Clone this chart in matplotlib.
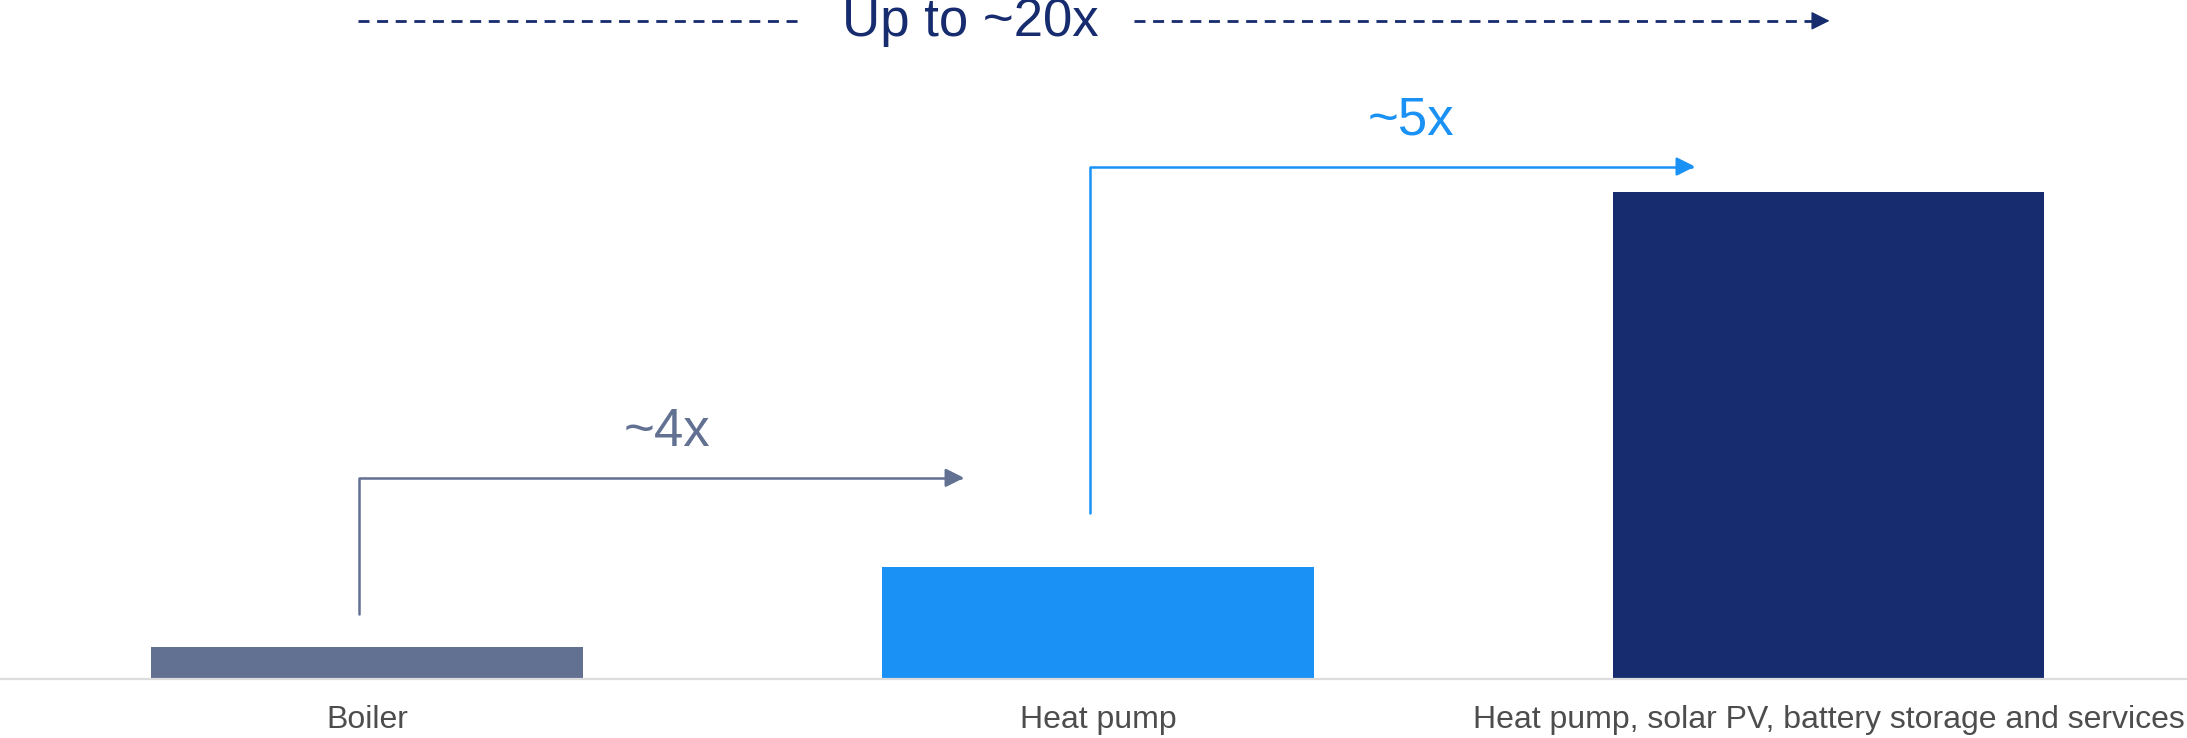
import matplotlib
matplotlib.use("Agg")
import matplotlib.pyplot as plt

plt.rcParams["font.family"] = ["Liberation Sans", "DejaVu Sans"]
plt.rcParams["lines.scale_dashes"] = False

# relative cost / value per home set-up
categories = ["Boiler", "Heat pump", "Heat pump, solar PV, battery storage and services"]
values = [1.0, 3.5, 15.2]
bar_colors = ["#627092", "#1a91f5", "#162c6f"]
step_labels = ["~4x", "~5x"]
total_label = "Up to ~20x"

fig = plt.figure(figsize=(21.87, 7.38), dpi=100)
ax = fig.add_axes([0, 0.08, 1, 0.92])

x = range(len(categories))
ax.bar(x, values, width=0.59, color=bar_colors)
ax.set_xlim(-0.502, 2.49)
ax.set_ylim(0, 21.2)

for side in ("top", "left", "right"):
    ax.spines[side].set_visible(False)
ax.spines["bottom"].set_color("#dcdcdc")
ax.spines["bottom"].set_linewidth(1.6)
ax.set_yticks([])
ax.set_xticks(list(x))
ax.set_xticklabels(categories, fontsize=23, color="#4d4d4d")
ax.tick_params(axis="x", length=0, pad=19)

# step arrows: vertical rise from a bar then across to the next bar
def step_arrow(x0, y0, x1, y1, color):
    ax.annotate("", xy=(x1, y1), xytext=(x0, y0),
                arrowprops=dict(arrowstyle="-|>", color=color, lw=1.8,
                                mutation_scale=28, shrinkA=0, shrinkB=0,
                                connectionstyle="angle,angleA=90,angleB=0,rad=0"))

step_arrow(-0.011, 2.03, 0.817, 6.28, bar_colors[0])
ax.text(0.41, 7.72, step_labels[0], fontsize=38, color=bar_colors[0],
        ha="center", va="center")

step_arrow(0.989, 5.19, 1.817, 16.0, bar_colors[1])
ax.text(1.428, 17.45, step_labels[1], fontsize=38, color=bar_colors[1],
        ha="center", va="center")

# overall dashed arrow across the top
y_top = 20.55
navy = bar_colors[2]
ax.plot([-0.012, 0.594], [y_top, y_top], color=navy, lw=2, dashes=(7.9, 5.5))
ax.plot([1.049, 1.98], [y_top, y_top], color=navy, lw=2, dashes=(7.9, 5.5))
ax.annotate("", xy=(2.001, y_top), xytext=(1.99, y_top),
            arrowprops=dict(arrowstyle="-|>,head_length=0.52,head_width=0.26",
                            color=navy, lw=1, mutation_scale=22,
                            shrinkA=0, shrinkB=0))
ax.text(0.825, 20.5, total_label, fontsize=38, color=navy,
        ha="center", va="center")

fig.savefig("out.png", dpi=100, facecolor="white")
